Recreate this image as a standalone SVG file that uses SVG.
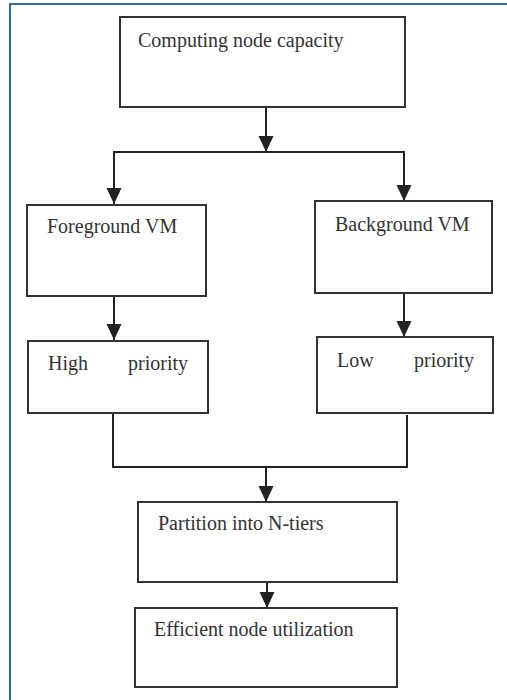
<svg xmlns="http://www.w3.org/2000/svg" width="507" height="700" viewBox="0 0 507 700">
<defs>
<style>
.box{fill:#fff;stroke:#333;stroke-width:2}
.lbl{font-family:'Liberation Serif','DejaVu Serif',serif;font-size:20px;fill:#333}
.ln{fill:none;stroke:#222;stroke-width:2}
</style>
<marker id="ah" markerUnits="userSpaceOnUse" markerWidth="16" markerHeight="16" refX="16" refY="7.5" orient="auto">
<path d="M0,0 L16,7.5 L0,15 z" fill="#222"/>
</marker>
</defs>
<rect width="507" height="700" fill="#fff"/>
<g id="frame">
<line x1="10" y1="3" x2="10" y2="700" stroke="#2e6da4" stroke-width="2"/>
<line x1="9" y1="4" x2="507" y2="4" stroke="#2e6da4" stroke-width="2"/>
</g>
<g id="connectors">
<line class="ln" x1="266" y1="107" x2="266" y2="152" marker-end="url(#ah)"/>
<polyline class="ln" points="114,203 114,152 404,152 404,201"/>
<line class="ln" x1="114" y1="180" x2="114" y2="204" marker-end="url(#ah)"/>
<line class="ln" x1="404" y1="180" x2="404" y2="201" marker-end="url(#ah)"/>
<line class="ln" x1="114" y1="296" x2="114" y2="340" marker-end="url(#ah)"/>
<line class="ln" x1="404" y1="293" x2="404" y2="337" marker-end="url(#ah)"/>
<polyline class="ln" points="113,409 113,467 407,467 407,415"/>
<line class="ln" x1="266" y1="467" x2="266" y2="502" marker-end="url(#ah)"/>
<line class="ln" x1="267" y1="582" x2="267" y2="608" marker-end="url(#ah)"/>
</g>
<g id="node-capacity">
<rect class="box" x="120" y="17" width="285" height="90"/>
<text class="lbl" x="138" y="47" font-family="Liberation Serif, serif">Computing node capacity</text>
</g>
<g id="node-foreground">
<rect class="box" x="27" y="205" width="179" height="91"/>
<text class="lbl" x="47" y="233">Foreground VM</text>
</g>
<g id="node-background">
<rect class="box" x="315" y="201" width="177" height="92"/>
<text class="lbl" x="335" y="231">Background VM</text>
</g>
<g id="node-high">
<rect class="box" x="28" y="341" width="180" height="72"/>
<text class="lbl" x="48" y="370">High</text>
<text class="lbl" x="128" y="370">priority</text>
</g>
<g id="node-low">
<rect class="box" x="317" y="337" width="176" height="76"/>
<text class="lbl" x="337" y="367">Low</text>
<text class="lbl" x="414" y="367">priority</text>
</g>
<g id="node-partition">
<rect class="box" x="138" y="502" width="259" height="80"/>
<text class="lbl" x="158" y="530">Partition into N-tiers</text>
</g>
<g id="node-efficient">
<rect class="box" x="135" y="608" width="262" height="79"/>
<text class="lbl" x="154" y="636">Efficient node utilization</text>
</g>
</svg>
